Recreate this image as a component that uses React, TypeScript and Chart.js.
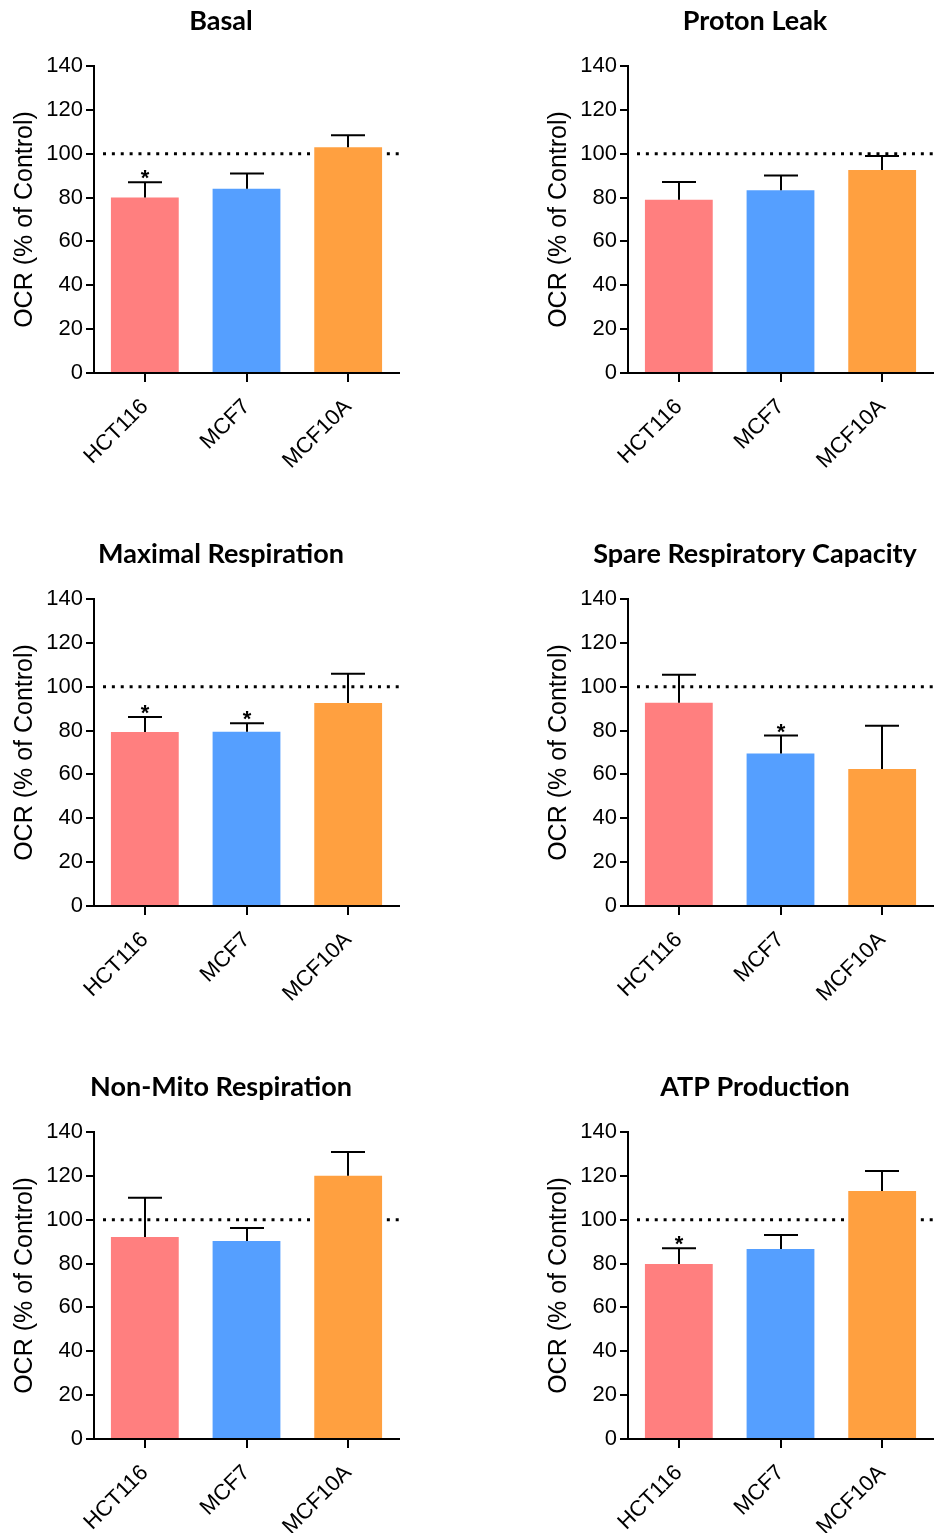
import React, { useEffect, useRef } from "react";
import { Chart, registerables } from "chart.js";

Chart.register(...registerables);

// Cell lines on the x axis
const cellLines = ["HCT116", "MCF7", "MCF10A"];
const barColors = ["#FF7F7F", "#559FFF", "#FFA040"];

// Y axis ticks
const yTickValues = [0, 20, 40, 60, 80, 100, 120, 140];
const controlLevel = 100;

// Mean OCR (% of control) and SEM per cell line, plus significance marks
const basalMean = [80, 84, 103];
const basalSem = [7, 7, 5.4];
const basalSig = [true, false, false];

const protonLeakMean = [79, 83.3, 92.6];
const protonLeakSem = [8.1, 6.8, 6.4];
const protonLeakSig = [false, false, false];

const maximalMean = [79.3, 79.5, 92.6];
const maximalSem = [6.9, 3.8, 13.3];
const maximalSig = [true, true, false];

const spareMean = [92.7, 69.6, 62.5];
const spareSem = [12.8, 8.1, 19.7];
const spareSig = [false, true, false];

const nonMitoMean = [92.1, 90.3, 120];
const nonMitoSem = [17.9, 5.9, 10.9];
const nonMitoSig = [false, false, false];

const atpMean = [79.8, 86.6, 113.1];
const atpSem = [7.2, 6.4, 9.1];
const atpSig = [true, false, false];

const panelTitles = [
  "Basal",
  "Proton Leak",
  "Maximal Respiration",
  "Spare Respiratory Capacity",
  "Non-Mito Respiration",
  "ATP Production",
];

const panels = [
  { title: panelTitles[0], mean: basalMean, sem: basalSem, sig: basalSig },
  { title: panelTitles[1], mean: protonLeakMean, sem: protonLeakSem, sig: protonLeakSig },
  { title: panelTitles[2], mean: maximalMean, sem: maximalSem, sig: maximalSig },
  { title: panelTitles[3], mean: spareMean, sem: spareSem, sig: spareSig },
  { title: panelTitles[4], mean: nonMitoMean, sem: nonMitoSem, sig: nonMitoSig },
  { title: panelTitles[5], mean: atpMean, sem: atpSem, sig: atpSig },
];

const AXIS_FONT = "'Liberation Sans', Arial, sans-serif";
const TITLE_FONT = "Lato, 'Open Sans', sans-serif";

const PANEL_W = 442;
const PANEL_H = 533;
const COL_STEP = 534;
const ROW_STEP = 533;

// Dotted reference line at 100 % drawn behind the bars,
// SEM whiskers and significance stars drawn on top of them,
// and the panel heading centred over the whole panel.
const decorations = {
  id: "decorations",
  beforeDatasetsDraw(chart: any) {
    const { ctx, chartArea, scales } = chart;
    const y = scales.y.getPixelForValue(controlLevel);
    ctx.save();
    ctx.strokeStyle = "#000";
    ctx.lineWidth = 3;
    ctx.setLineDash([3, 5.87]);
    ctx.beginPath();
    ctx.moveTo(chartArea.left + 9, y);
    ctx.lineTo(chartArea.right, y);
    ctx.stroke();
    ctx.restore();
  },
  afterDatasetsDraw(chart: any, _args: any, opts: any) {
    const { ctx, scales } = chart;
    const meta = chart.getDatasetMeta(0);
    const mean: number[] = opts.mean;
    const sem: number[] = opts.sem;
    const sig: boolean[] = opts.sig;
    ctx.save();
    ctx.strokeStyle = "#000";
    ctx.lineWidth = 2;
    meta.data.forEach((bar: any, i: number) => {
      const x = Math.round(bar.x);
      const yTop = scales.y.getPixelForValue(mean[i]);
      const yCap = scales.y.getPixelForValue(mean[i] + sem[i]);
      ctx.beginPath();
      ctx.moveTo(x, yTop);
      ctx.lineTo(x, yCap);
      ctx.moveTo(x - 17, yCap);
      ctx.lineTo(x + 17, yCap);
      ctx.stroke();
      if (sig[i]) {
        ctx.fillStyle = "#000";
        ctx.font = `bold 22px ${AXIS_FONT}`;
        ctx.textAlign = "center";
        ctx.textBaseline = "alphabetic";
        ctx.fillText("*", x, yCap + 3);
      }
    });
    ctx.restore();
  },
  afterDraw(chart: any, _args: any, opts: any) {
    const { ctx } = chart;
    ctx.save();
    ctx.fillStyle = "#000";
    ctx.font = `bold 27px ${TITLE_FONT}`;
    ctx.textAlign = "center";
    ctx.textBaseline = "alphabetic";
    ctx.fillText(opts.title, chart.width / 2, 30);
    ctx.restore();
  },
};

function Panel({ p, left, top }: { p: (typeof panels)[number]; left: number; top: number }) {
  const ref = useRef<HTMLCanvasElement | null>(null);

  useEffect(() => {
    if (!ref.current) return;
    const chart = new Chart(ref.current, {
      type: "bar",
      data: {
        labels: cellLines,
        datasets: [
          {
            data: p.mean,
            backgroundColor: barColors,
            borderWidth: 0,
            categoryPercentage: 1,
            barPercentage: 0.667,
          },
        ],
      },
      options: {
        responsive: false,
        animation: false,
        devicePixelRatio: 1,
        layout: { padding: { left: 0, right: 43, top: 66, bottom: 0 } },
        plugins: {
          legend: { display: false },
          tooltip: { enabled: false },
          title: { display: false },
          decorations: { title: p.title, mean: p.mean, sem: p.sem, sig: p.sig },
        } as any,
        scales: {
          x: {
            offset: true,
            grid: {
              offset: false,
              display: true,
              drawOnChartArea: false,
              drawTicks: true,
              tickLength: 9,
              color: "#000",
              lineWidth: 2,
            },
            border: { display: true, color: "#000", width: 2 },
            ticks: {
              color: "#000",
              font: { family: AXIS_FONT, size: 22 },
              minRotation: 45,
              maxRotation: 45,
              padding: 12,
              autoSkip: false,
            },
            afterFit(scale: any) {
              scale.height = 160;
            },
          },
          y: {
            min: 0,
            max: 140,
            afterBuildTicks(scale: any) {
              scale.ticks = yTickValues.map((v) => ({ value: v }));
            },
            grid: {
              display: true,
              drawOnChartArea: false,
              drawTicks: true,
              tickLength: 8,
              color: "#000",
              lineWidth: 2,
            },
            border: { display: true, color: "#000", width: 2 },
            ticks: {
              color: "#000",
              font: { family: AXIS_FONT, size: 22 },
              padding: 3,
            },
            title: {
              display: true,
              text: "OCR (% of Control)",
              color: "#000",
              font: { family: AXIS_FONT, size: 25, lineHeight: 1.2 },
              padding: { top: 10, bottom: 0 },
            },
            afterFit(scale: any) {
              scale.width = 94;
            },
          },
        },
      },
      plugins: [decorations],
    });
    return () => chart.destroy();
  }, [p]);

  return (
    <canvas
      ref={ref}
      width={PANEL_W}
      height={PANEL_H}
      style={{ position: "absolute", left, top, width: PANEL_W, height: PANEL_H }}
    />
  );
}

export default function App() {
  return (
    <div
      style={{
        position: "absolute",
        left: 0,
        top: 0,
        width: 934,
        height: 1533,
        overflow: "hidden",
        background: "#fff",
      }}
    >
      {panels.map((p, i) => (
        <Panel
          key={p.title}
          p={p}
          left={(i % 2) * COL_STEP}
          top={Math.floor(i / 2) * ROW_STEP}
        />
      ))}
    </div>
  );
}
